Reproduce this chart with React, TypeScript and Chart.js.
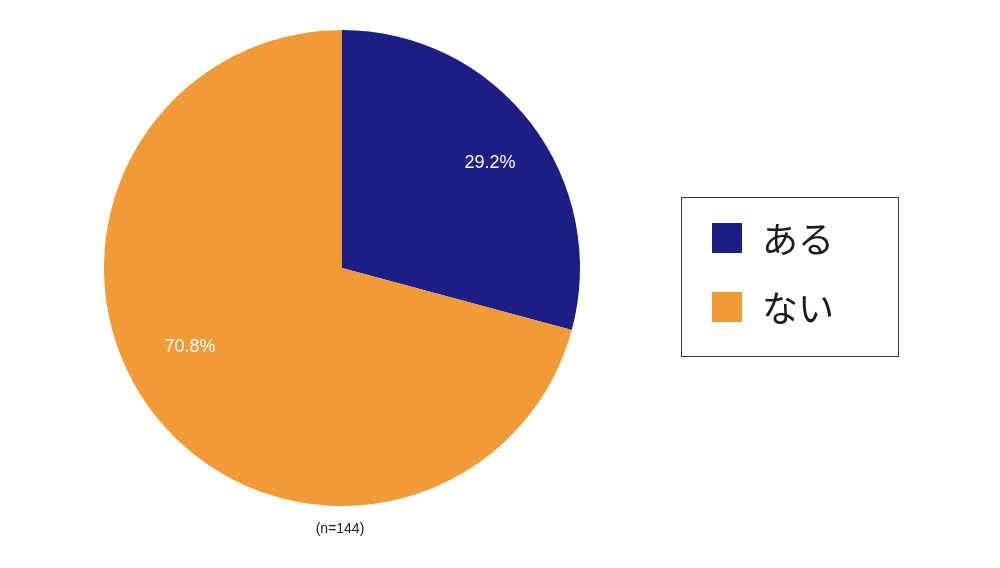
import React, { useEffect, useRef } from "react";
import { Chart, registerables } from "chart.js";

Chart.register(...registerables);

const categories = ["ある", "ない"];
const values = [29.2, 70.8];
const valueLabels = ["29.2%", "70.8%"];
const colors = ["#1d1d86", "#f19a38"];
const footnote = "(n=144)";

const labelPlugin = {
  id: "sliceLabels",
  afterDatasetsDraw(chart: any) {
    const ctx = chart.ctx;
    const meta = chart.getDatasetMeta(0);
    const angleShift = [2, 10];
    const radiusFactor = [0.763, 0.72];
    ctx.save();
    ctx.font = "18px 'Liberation Sans', Arial, sans-serif";
    ctx.fillStyle = "#ffffff";
    ctx.textAlign = "center";
    ctx.textBaseline = "middle";
    meta.data.forEach((arc: any, i: number) => {
      const mid = (arc.startAngle + arc.endAngle) / 2 + (angleShift[i] * Math.PI) / 180;
      const r = arc.outerRadius * radiusFactor[i];
      ctx.fillText(valueLabels[i], arc.x + Math.cos(mid) * r, arc.y + Math.sin(mid) * r);
    });
    // footnote
    const first = meta.data[0];
    ctx.fillStyle = "#222222";
    ctx.font = "14px 'Liberation Sans', Arial, sans-serif";
    ctx.fillText(footnote, first.x - 2, first.y + first.outerRadius + 23);

    // legend box
    const bx = 681, by = 197, bw = 217, bh = 159;
    ctx.strokeStyle = "#3a3a3a";
    ctx.lineWidth = 1;
    ctx.strokeRect(bx + 0.5, by + 0.5, bw, bh);
    ctx.textAlign = "left";
    ctx.font = "400 36px 'Noto Sans CJK JP', sans-serif";
    categories.forEach((c, i) => {
      const y = by + 26 + i * 69;
      ctx.fillStyle = colors[i];
      ctx.fillRect(bx + 31, y, 30, 30);
      ctx.fillStyle = "#1a1a1a";
      ctx.fillText(c, bx + 81, y + 16);
    });
    ctx.restore();
  },
};

export default function App() {
  const ref = useRef<HTMLCanvasElement>(null);
  useEffect(() => {
    if (!ref.current) return;
    const chart = new Chart(ref.current, {
      type: "pie",
      data: {
        labels: categories,
        datasets: [
          {
            data: values,
            backgroundColor: colors,
            borderWidth: 0,
          },
        ],
      },
      options: {
        animation: false,
        responsive: false,
        maintainAspectRatio: false,
        layout: { padding: { left: 104, top: 30, right: 420, bottom: 62 } },
        plugins: {
          legend: { display: false },
          tooltip: { enabled: false },
        },
      },
      plugins: [labelPlugin],
    });
    return () => chart.destroy();
  }, []);
  return (
    <div style={{ position: "fixed", left: 0, top: 0, width: 1000, height: 568, background: "#fff" }}>
      <canvas ref={ref} width={1000} height={568} style={{ width: 1000, height: 568 }} />
    </div>
  );
}
